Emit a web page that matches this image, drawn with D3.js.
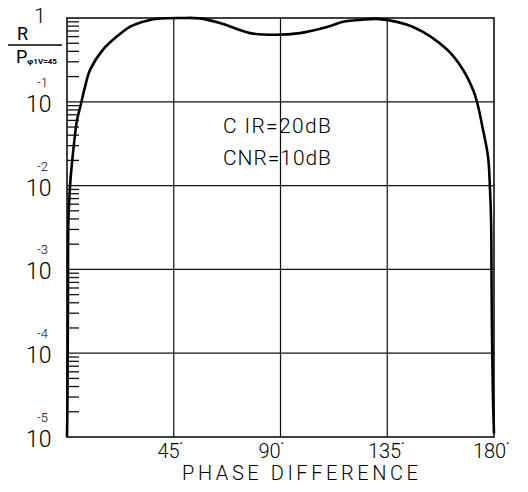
<html>
<script src='https://d3js.org/d3.v7.min.js'></script>
<body style="margin:0; background:#fff;">
<svg width=528 height=492></svg>
<script>

// phase difference (deg) and normalised ratio
var phase = [0, 0.2, 0.4, 0.6, 1.3, 2.1, 4.2, 5.5, 7.6, 9.7, 15.2, 21, 27, 33.7, 39.2, 48, 56, 64.5, 77.2, 87.7, 98.2, 109.6, 116.4, 123.5, 132, 145.9, 160.2, 167, 171.2, 172.9, 175.4, 177.5, 178.3, 178.8, 178.95, 179.1, 179.3, 179.6, 180];
var ratio = [1.0e-5, 2.75e-5, 4.3e-4, 3.9e-3, 0.0102, 0.0186, 0.060, 0.085, 0.151, 0.24, 0.42, 0.6, 0.8, 0.93, 0.985, 1.0, 0.99, 0.87, 0.66, 0.63, 0.66, 0.78, 0.9, 0.95, 0.97, 0.78, 0.42, 0.24, 0.138, 0.098, 0.046, 0.022, 0.0093, 0.0035, 9e-4, 2.5e-4, 8.7e-5, 2.75e-5, 1.1e-5];

var xTicks = [45, 90, 135, 180];
var xTickLabels = ["45", "90", "135", "180"];
var decades = [1, 1e-1, 1e-2, 1e-3, 1e-4, 1e-5];
var decadeExp = ["", "-1", "-2", "-3", "-4", "-5"];
var notes = ["C IR=20dB", "CNR=10dB"];

var svg = d3.select('svg');
var font = "Roboto";

var x = d3.scaleLinear().domain([0, 180]).range([67, 494]);
var y = d3.scaleLog().domain([1e-5, 1]).range([437, 18]);

// grid
svg.append("g").selectAll("line").data(xTicks.slice(0, 3)).join("line")
    .attr("x1", d => x(d)).attr("x2", d => x(d))
    .attr("y1", y(1)).attr("y2", y(1e-5))
    .attr("stroke", "#111").attr("stroke-width", 1.2);
svg.append("g").selectAll("line").data(decades.slice(1, 5)).join("line")
    .attr("x1", x(0)).attr("x2", x(180))
    .attr("y1", d => y(d)).attr("y2", d => y(d))
    .attr("stroke", "#111").attr("stroke-width", 1.2);

// minor log ticks along the left edge
var minors = [];
decades.slice(1).forEach(function(d) {
    for (var k = 2; k <= 9; k++) minors.push(d * k);
});
svg.append("g").selectAll("line").data(minors).join("line")
    .attr("x1", x(0)).attr("x2", x(0) + 12)
    .attr("y1", d => y(d)).attr("y2", d => y(d))
    .attr("stroke", "#111").attr("stroke-width", 1.3);

// frame
svg.append("rect")
    .attr("x", x(0)).attr("y", y(1))
    .attr("width", x(180) - x(0)).attr("height", y(1e-5) - y(1))
    .attr("fill", "none").attr("stroke", "#111").attr("stroke-width", 1.6);

// curve
var pts = phase.map((p, i) => [x(p), y(ratio[i])]);
svg.append("path")
    .attr("d", d3.line().curve(d3.curveCatmullRom.alpha(0.5))(pts))
    .attr("fill", "none").attr("stroke", "#000").attr("stroke-width", 2.6);

// y labels
svg.append("text").attr("x", 34).attr("y", 23)
    .attr("font-family", font).attr("font-weight", 300).attr("font-size", 21)
    .text("1");
decades.slice(1).forEach(function(d, i) {
    svg.append("text").attr("x", 26).attr("y", y(d) + 10)
        .attr("font-family", font).attr("font-weight", 300).attr("font-size", 23)
        .text("10");
    svg.append("text").attr("x", 37).attr("y", y(d) - 15)
        .attr("font-family", font).attr("font-weight", 300).attr("font-size", 13)
        .text(decadeExp[i + 1]);
});

// y axis title R / P
svg.append("text").attr("x", 17).attr("y", 40)
    .attr("font-family", font).attr("font-weight", 400).attr("font-size", 18)
    .text("R");
svg.append("line").attr("x1", 8).attr("x2", 62).attr("y1", 45).attr("y2", 45)
    .attr("stroke", "#000").attr("stroke-width", 1.5);
var pt = svg.append("text").attr("x", 16).attr("y", 63)
    .attr("font-family", font).attr("font-weight", 400).attr("font-size", 18);
pt.append("tspan").text("P");
pt.append("tspan").attr("font-size", 8).attr("font-weight", 700).attr("dy", 1).text("φ1V=45");

// x labels
xTicks.forEach(function(d, i) {
    var cx = [170, 271, 386, 491][i];
    var t = svg.append("text").attr("x", cx).attr("y", 458)
        .attr("text-anchor", "middle")
        .attr("font-family", font).attr("font-weight", 300).attr("font-size", 20);
    t.append("tspan").text(xTickLabels[i]);
    t.append("tspan").attr("font-size", 9).attr("dy", -12).text("•");
});

svg.append("text").attr("x", 182).attr("y", 480)
    .attr("textLength", 236).attr("lengthAdjust", "spacing")
    .attr("font-family", font).attr("font-weight", 300).attr("font-size", 20)
    .text("PHASE DIFFERENCE");

// annotation
notes.forEach(function(n, i) {
    svg.append("text").attr("x", 223).attr("y", 133 + i * 32)
        .attr("textLength", 108).attr("lengthAdjust", "spacing")
        .attr("font-family", font).attr("font-weight", 300).attr("font-size", 21)
        .text(n);
});

</script>
</body>
</html>
